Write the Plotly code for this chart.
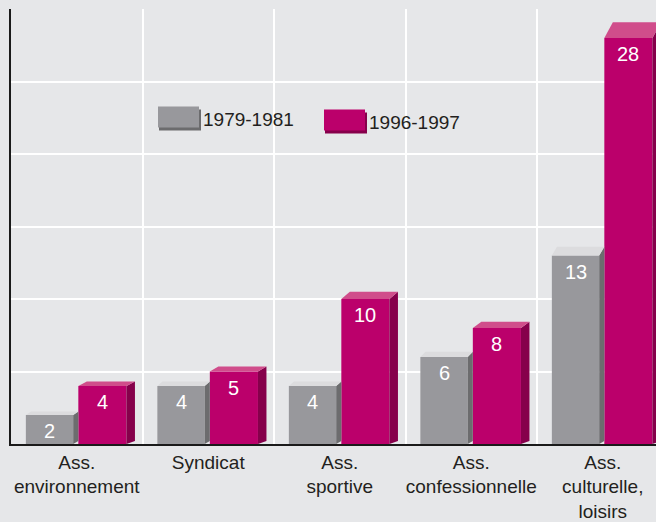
import plotly.graph_objects as go

categories = ["Ass.<br>environnement", "Syndicat", "Ass.<br>sportive",
              "Ass.<br>confessionnelle", "Ass.<br>culturelle,<br>loisirs"]
series_names = ["1979-1981", "1996-1997"]
values_1979 = [2, 4, 4, 6, 13]
values_1996 = [4, 5, 10, 8, 28]

# style
BG = "#e6e7e9"
GRAY, GRAY_SIDE, GRAY_TOP = "#98989c", "#6c6c6e", "#dcdcde"
MAG, MAG_SIDE, MAG_TOP = "#bb006b", "#86004b", "#d04d8b"
FONT = "Liberation Sans"

W, H = 656, 522
L, T, B = 11, 9, 76
PX_PER_CAT = 131.5
YMAX = 30
plot_h = H - T - B
px_per_unit = plot_h / YMAX
XMAX = (W - L) / PX_PER_CAT

G_OFF, G_W = 0.113, 0.360
M_OFF, M_W = 0.512, 0.366
DEPTH_X = 8.5 / PX_PER_CAT

x_idx = list(range(len(categories)))

fig = go.Figure()

def depth_y(v):
    return (2.5 + 0.48 * v) / px_per_unit

def add_faces(x0, w, v, dx, side_col, top_col):
    x1 = x0 + w
    dyt = depth_y(v)
    dyb = 3 / px_per_unit
    fig.add_trace(go.Scatter(x=[x1, x1 + dx, x1 + dx, x1, x1],
                             y=[0, dyb, v + dyt, v, 0],
                             fill="toself", fillcolor=side_col, mode="lines",
                             line=dict(width=0), hoverinfo="skip", showlegend=False))
    fig.add_trace(go.Scatter(x=[x0, x0 + dx, x1 + dx, x1, x0],
                             y=[v, v + dyt, v + dyt, v, v],
                             fill="toself", fillcolor=top_col, mode="lines",
                             line=dict(width=0), hoverinfo="skip", showlegend=False))

fig.add_trace(go.Bar(x=x_idx, y=values_1979, name=series_names[0], offset=G_OFF,
                     width=G_W, marker=dict(color=GRAY, line=dict(width=0)), showlegend=False))
fig.add_trace(go.Bar(x=x_idx, y=values_1996, name=series_names[1], offset=M_OFF,
                     width=M_W, marker=dict(color=MAG, line=dict(width=0)), showlegend=False))

for i in x_idx:
    add_faces(i + G_OFF, G_W, values_1979[i], M_OFF - (G_OFF + G_W), GRAY_SIDE, GRAY_TOP)
    add_faces(i + M_OFF, M_W, values_1996[i], DEPTH_X, MAG_SIDE, MAG_TOP)

annotations = []
for i in x_idx:
    for off, w, vals in ((G_OFF, G_W, values_1979), (M_OFF, M_W, values_1996)):
        annotations.append(dict(x=i + off + w / 2, y=vals[i], xref="x", yref="y",
                                text=str(vals[i]), showarrow=False, yanchor="top",
                                yshift=-3, font=dict(family=FONT, size=20, color="white")))

def px_x(p):
    return (p - L) / (W - L)

def px_y(p):
    return (H - B - p) / plot_h

shapes = []
legend_items = [(158, 107, GRAY, GRAY_SIDE, series_names[0]),
                (324, 110, MAG, MAG_SIDE, series_names[1])]
for lx, ly, col, scol, name in legend_items:
    shapes.append(dict(type="rect", xref="paper", yref="paper",
                       x0=px_x(lx + 1), x1=px_x(lx + 43), y0=px_y(ly + 24), y1=px_y(ly + 3),
                       fillcolor=scol, line=dict(width=0), layer="above"))
    shapes.append(dict(type="rect", xref="paper", yref="paper",
                       x0=px_x(lx), x1=px_x(lx + 41), y0=px_y(ly + 21), y1=px_y(ly),
                       fillcolor=col, line=dict(width=0), layer="above"))
    annotations.append(dict(x=px_x(lx + 43), y=px_y(ly + 13), xref="paper", yref="paper",
                            text=name, showarrow=False, xanchor="left", yanchor="middle",
                            font=dict(family=FONT, size=19, color="#231f20")))

fig.update_layout(
    width=W, height=H,
    margin=dict(l=L, r=0, t=T, b=B),
    paper_bgcolor=BG, plot_bgcolor=BG,
    barmode="overlay",
    showlegend=False,
    shapes=shapes,
    annotations=annotations,
    xaxis=dict(range=[0, XMAX], tickmode="array",
               tickvals=[i + 0.5 for i in x_idx], ticktext=categories,
               showgrid=False, zeroline=False, ticks="",
               showline=True, linecolor="#1a1a1a", linewidth=1.5,
               tickfont=dict(family=FONT, size=19, color="#231f20"),
               minor=dict(tickmode="array", tickvals=[1, 2, 3, 4], showgrid=True,
                          gridcolor="white", gridwidth=1.5, ticks="")),
    yaxis=dict(range=[0, YMAX], tickmode="linear", tick0=0, dtick=5,
               showticklabels=False, showgrid=True, gridcolor="white", gridwidth=1.5,
               zeroline=False, showline=True, linecolor="#1a1a1a", linewidth=1.5, ticks=""),
)

fig.write_html("out.html")
